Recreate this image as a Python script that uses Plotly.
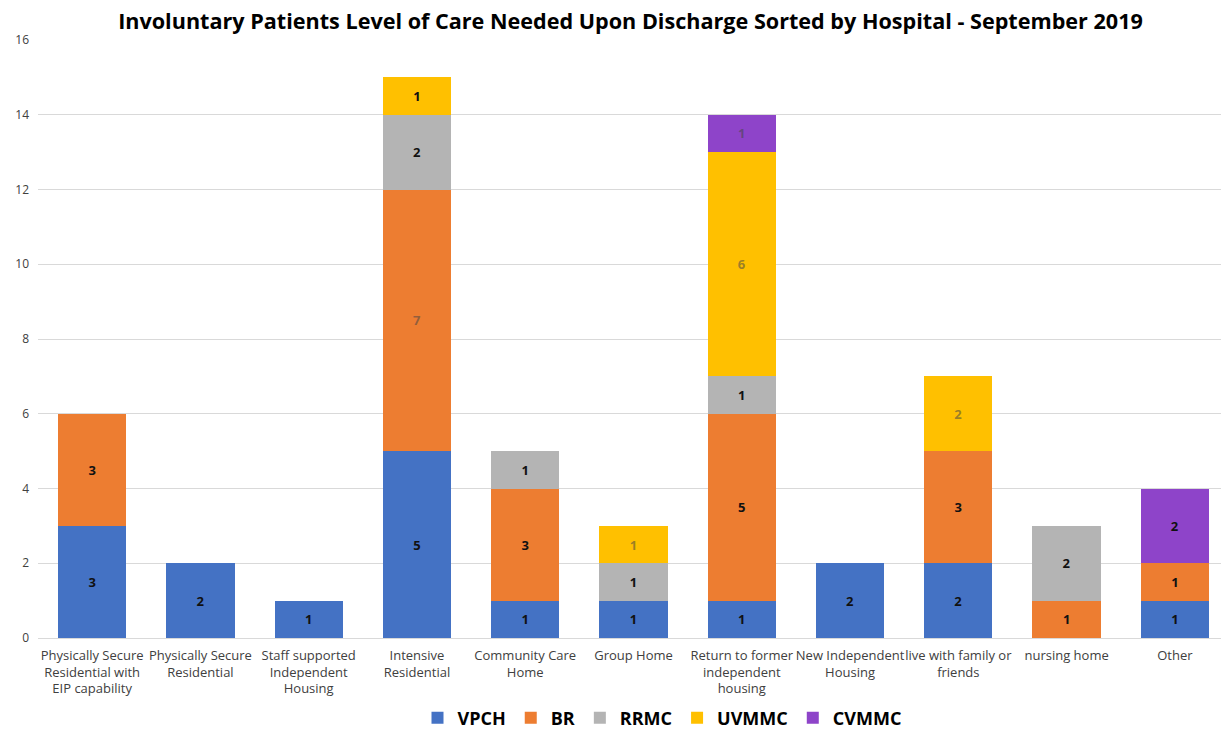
import plotly.graph_objects as go

categories = [
    "Physically Secure<br>Residential with<br>EIP capability",
    "Physically Secure<br>Residential",
    "Staff supported<br>Independent<br>Housing",
    "Intensive<br>Residential",
    "Community Care<br>Home",
    "Group Home",
    "Return to former<br>independent<br>housing",
    "New Independent<br>Housing",
    "live with family or<br>friends",
    "nursing home",
    "Other",
]
series_names = ["VPCH", "BR", "RRMC", "UVMMC", "CVMMC"]
vpch = [3, 2, 1, 5, 1, 1, 1, 2, 2, 0, 1]
br = [3, 0, 0, 7, 3, 0, 5, 0, 3, 1, 1]
rrmc = [0, 0, 0, 2, 1, 1, 1, 0, 0, 2, 0]
uvmmc = [0, 0, 0, 1, 0, 1, 6, 0, 2, 0, 0]
cvmmc = [0, 0, 0, 0, 0, 0, 1, 0, 0, 0, 2]
values = [vpch, br, rrmc, uvmmc, cvmmc]
colors = ["#4472C4", "#ED7D31", "#B4B4B4", "#FFC000", "#8E44C9"]

# which labels appear muted (greyish) in the reference
muted = {
    "BR": [3],
    "UVMMC": [5, 6, 8],
    "CVMMC": [6],
}

fig = go.Figure()
for name, vals, col in zip(series_names, values, colors):
    txt = [str(v) if v else "" for v in vals]
    tcol = []
    for i in range(len(vals)):
        if i in muted.get(name, []):
            tcol.append("rgba(70,70,70,0.55)")
        else:
            tcol.append("#111111")
    fig.add_trace(go.Bar(
        name=name, x=categories, y=vals, marker_color=col,
        marker_line_width=0,
        text=txt, textposition="inside", insidetextanchor="middle",
        textangle=0,
        textfont=dict(family="Open Sans", size=13, color=tcol, weight="bold"),
        hoverinfo="skip",
    ))

# page body has an 8px margin, so the figure is sized/offset to compensate
W, H = 1221, 724
fig.update_layout(
    barmode="stack",
    bargap=0.37,
    width=W, height=H,
    margin=dict(l=30, r=0, t=32, b=H - 630),
    paper_bgcolor="white", plot_bgcolor="white",
    title=dict(text="<b>Involuntary Patients Level of Care Needed Upon Discharge Sorted by Hospital - September 2019</b>",
               x=622.5 / W, xanchor="center", y=1 - 13 / H, yanchor="middle",
               font=dict(family="Open Sans", size=21.6, color="#000000")),
    font=dict(family="Open Sans", color="#404040"),
    uniformtext=dict(minsize=8, mode="show"),
    legend=dict(orientation="h", x=654 / W, xanchor="center",
                yref="container", y=1 - 710 / H, yanchor="middle",
                font=dict(family="Open Sans", size=18, color="#000000", weight="bold"),
                itemwidth=30, traceorder="normal", xref="container"),
)
fig.update_yaxes(range=[0, 16], dtick=2, showgrid=True, gridcolor="#D9D9D9",
                 zeroline=False, showline=False, ticks="", ticklabelstandoff=8,
                 automargin=False,
                 tickfont=dict(size=12, color="#404040"))
fig.update_xaxes(showline=True, linecolor="#D9D9D9", ticks="", tickangle=0,
                 ticklabelstandoff=5, automargin=False,
                 tickfont=dict(size=13, color="#404040"))

fig.write_html("out.html")
